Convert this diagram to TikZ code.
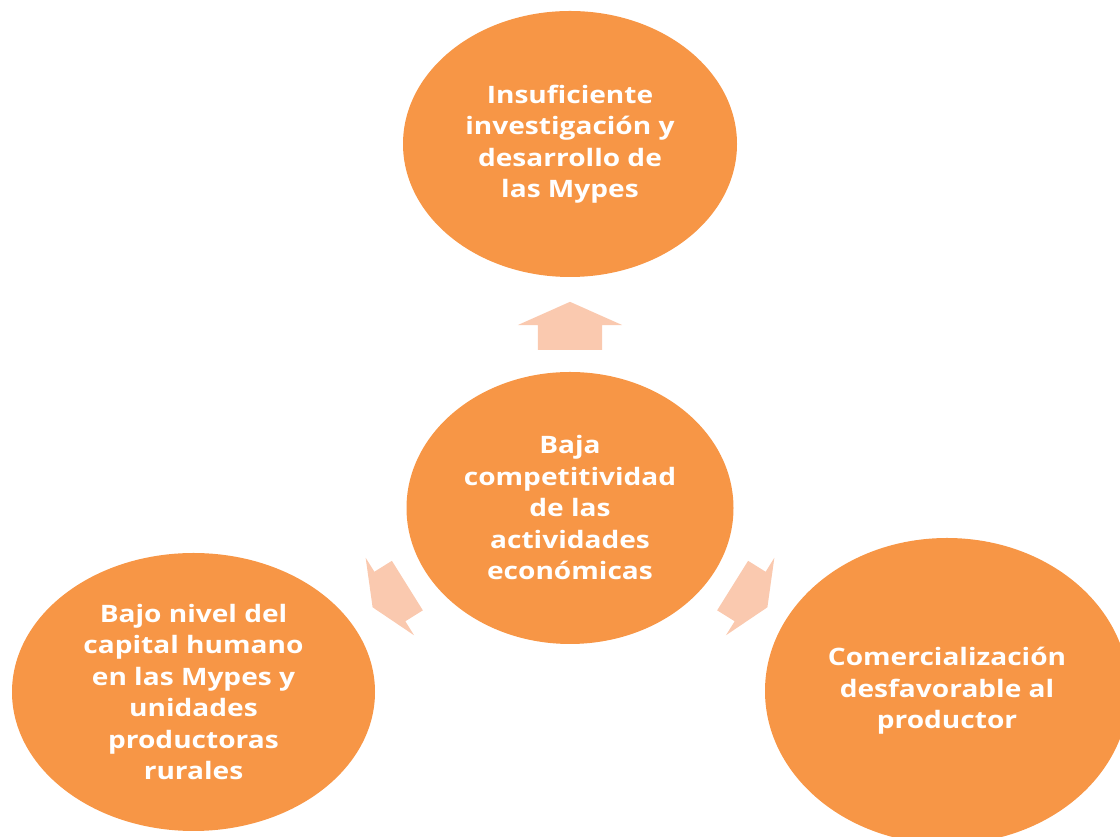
\documentclass[tikz,border=0pt]{standalone}
\usepackage{fontspec}
\setmainfont{Open Sans}[FakeStretch=1.17]
\usetikzlibrary{shapes.geometric,shapes.arrows}
\definecolor{naranja}{RGB}{247,150,70}
\definecolor{melon}{RGB}{250,201,175}
\begin{document}
\begin{tikzpicture}[x=1pt,y=1pt,
  bubble/.style={ellipse, fill=naranja, inner sep=0pt, text=white, align=center,
    font=\bfseries\fontsize{24}{31.5}\selectfont},
  flecha/.style={single arrow, fill=melon, inner xsep=0pt, single arrow tip angle=132}]
\useasboundingbox (0,0) rectangle (1120,837);
\node[bubble, minimum width=334, minimum height=266] (I) at (570, 693) {Insuficiente\\investigación y\\desarrollo de\\las Mypes};
\node[bubble, minimum width=327, minimum height=272] (B) at (570, 329) {Baja\\competitividad\\de las\\actividades\\económicas};
\node[bubble, minimum width=363, minimum height=278] (H) at (193.5, 145) {Bajo nivel del\\capital humano\\en las Mypes y\\unidades\\productoras\\rurales};
\node[bubble, minimum width=364, minimum height=306] (C) at (947, 146) {Comercialización\\desfavorable al\\productor};
\node[flecha, rotate=90, minimum height=48, inner ysep=32, single arrow head extend=20] (U) at (570, 504) {};
\node[flecha, rotate=212, minimum height=41, inner ysep=29, single arrow head extend=16.5] (L) at (395.5, 244) {};
\node[flecha, rotate=-32, minimum height=41, inner ysep=29, single arrow head extend=16.5] (R) at (744.5, 244) {};
\end{tikzpicture}
\end{document}
